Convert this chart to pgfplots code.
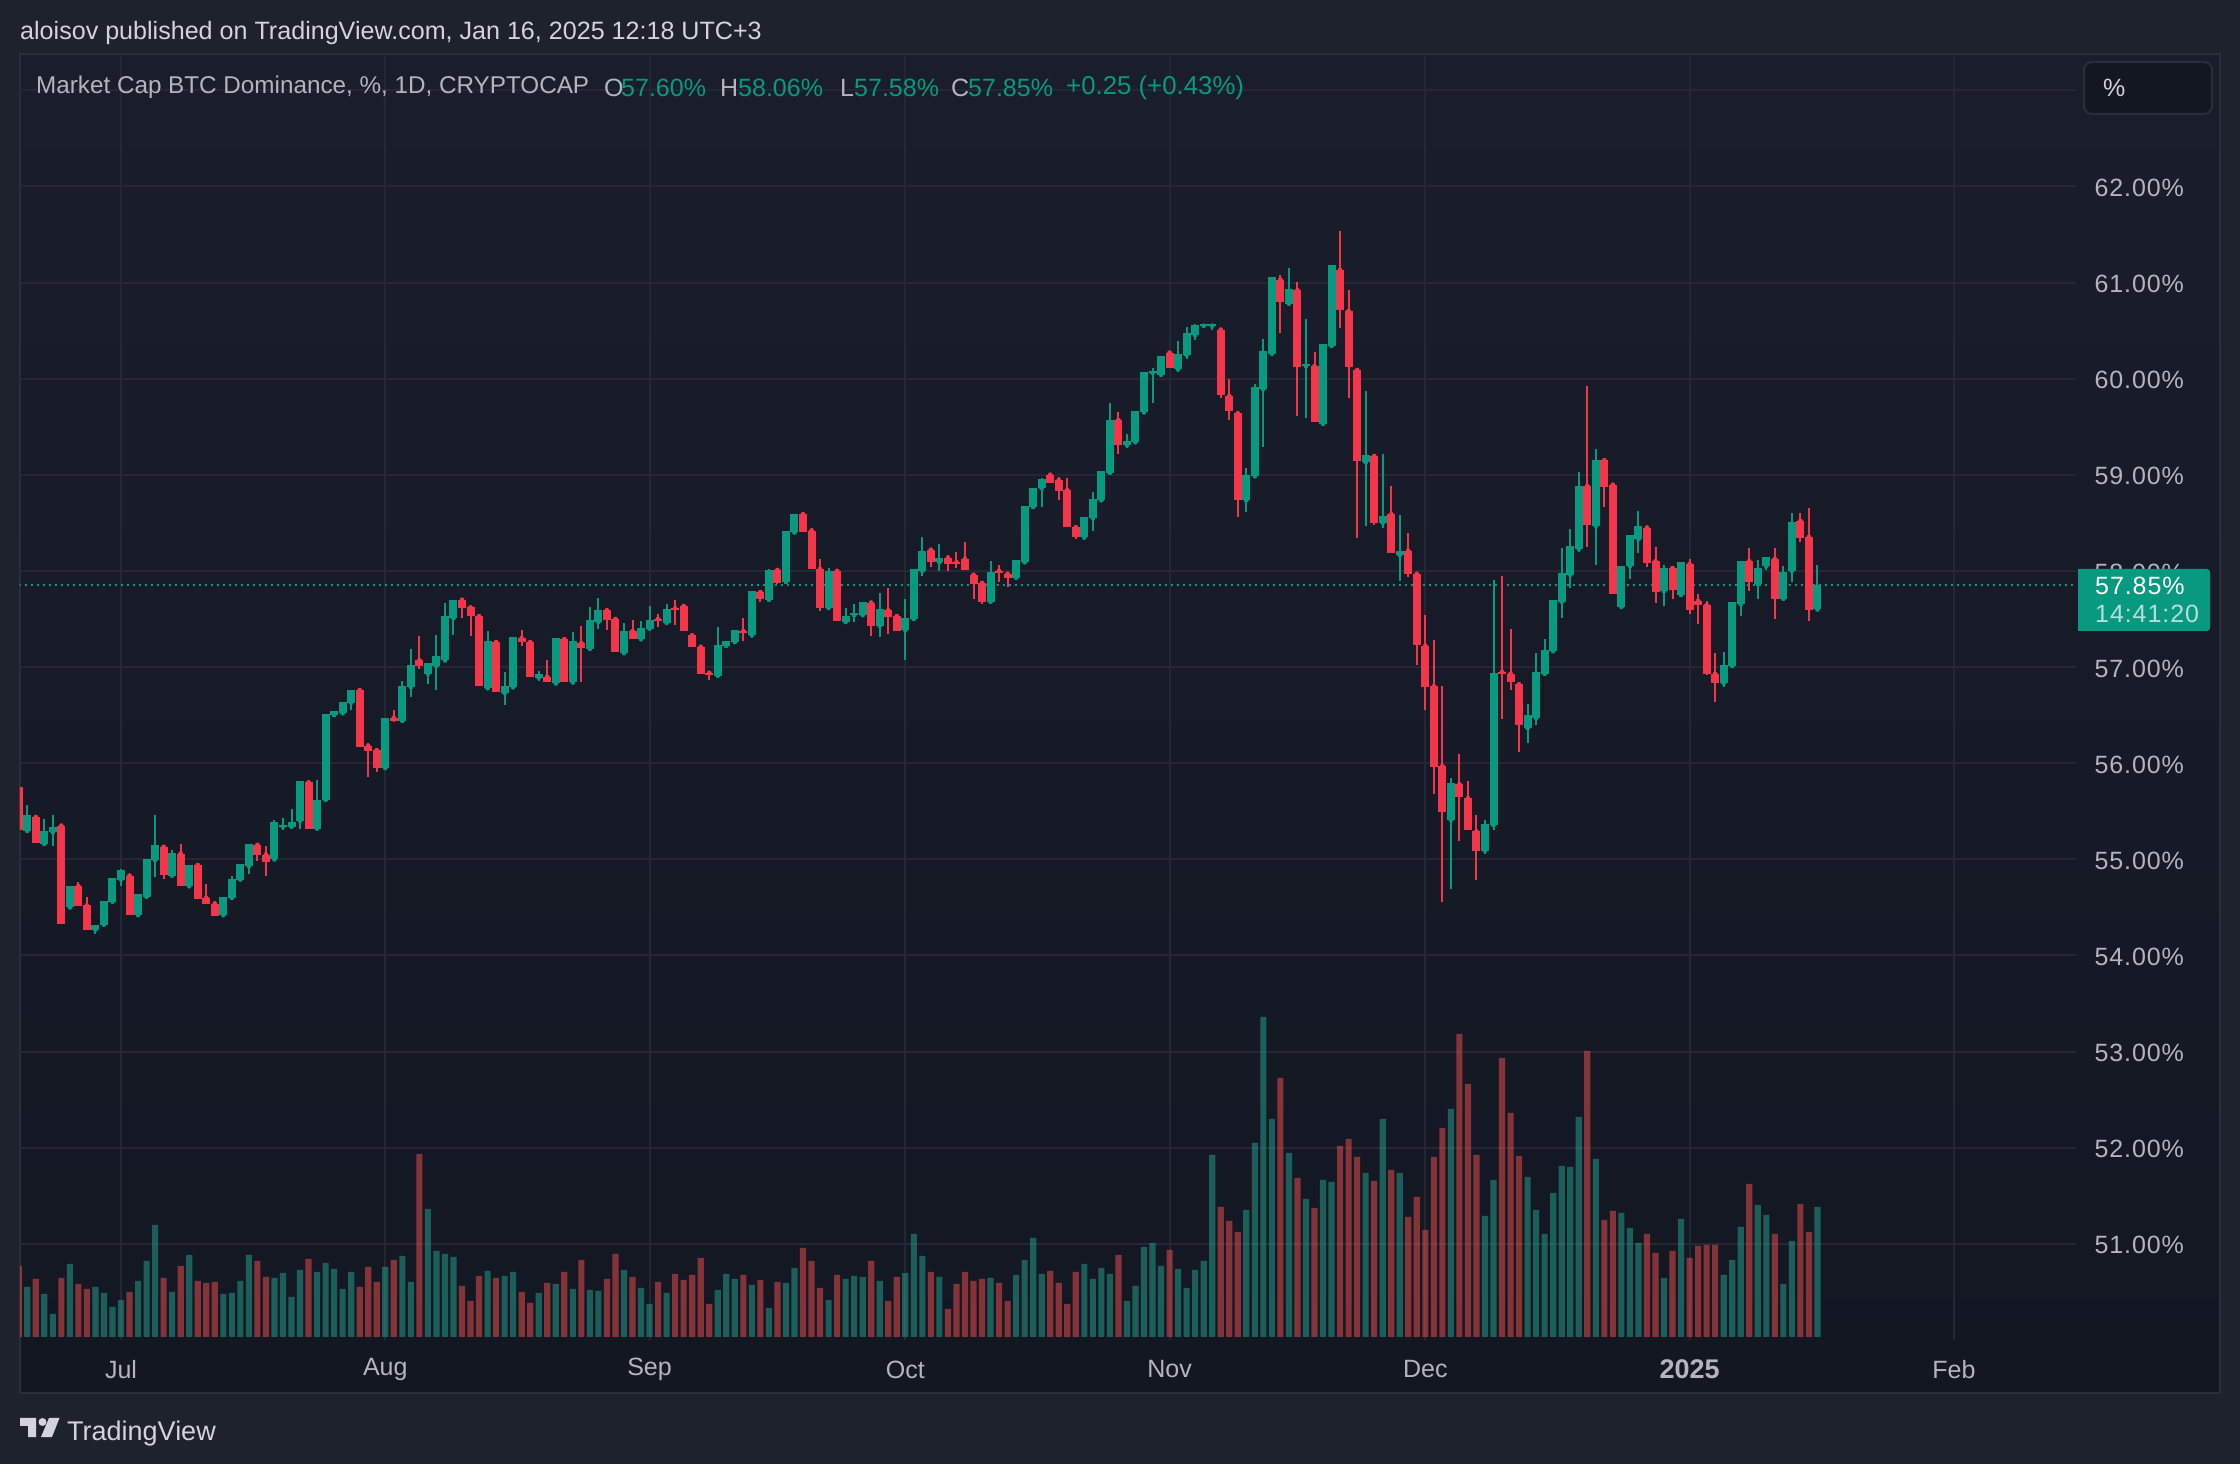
\documentclass[border=0pt]{standalone}
\usepackage{fontspec}
\setmainfont{Liberation Sans}
\newfontfamily\labf[LetterSpace=3.7]{Liberation Sans}
\usepackage{pgfplots}
\usepackage{pgfplotstable}
\pgfplotsset{compat=1.18}
\definecolor{bgouter}{HTML}{1E222D}
\definecolor{panetop}{HTML}{1A1E2B}
\definecolor{panebot}{HTML}{131722}
\definecolor{gridc}{HTML}{252834}
\definecolor{borderc}{HTML}{2A2E39}
\definecolor{labelc}{HTML}{B2B5BE}
\definecolor{titlec}{HTML}{D1D4DC}
\definecolor{tvgreen}{HTML}{089981}
\definecolor{tvred}{HTML}{F5364A}
\definecolor{volgreen}{HTML}{25A592}
\definecolor{volred}{HTML}{F54F4E}
\newcommand\lab{\labf\fontsize{25}{30}\selectfont}
\newcommand\pl{\fontsize{25}{30}\selectfont}
\pgfplotstableread{
d o h l c v
-11 55.295 55.57 55.27 55.46 150
-9 55.16 55.42 55.15 55.29 129
-8 55.28 55.46 55.14 55.34 69
-6 54.50 54.72 54.50 54.72 219
-3 54.27 54.32 54.22 54.32 150
-2 54.32 54.57 54.32 54.57 132
-1 54.56 54.81 54.56 54.81 90
0 54.79 54.90 54.72 54.89 111
2 54.42 54.64 54.40 54.64 168
3 54.61 55.00 54.60 55.00 228
4 54.99 55.46 54.82 55.15 336
6 54.83 55.10 54.83 55.07 135
8 54.72 54.94 54.72 54.94 246
12 54.42 54.61 54.42 54.61 129
13 54.60 54.83 54.60 54.80 132
14 54.79 54.95 54.79 54.95 168
15 54.93 55.16 54.85 55.16 246
18 55.00 55.41 55.00 55.39 177
19 55.34 55.43 55.30 55.36 192
20 55.34 55.52 55.33 55.39 120
21 55.40 55.81 55.32 55.81 201
23 55.32 55.82 55.32 55.62 195
24 55.62 56.51 55.62 56.51 222
25 56.50 56.54 56.50 56.54 204
26 56.52 56.64 56.52 56.64 144
27 56.63 56.76 56.55 56.76 195
31 55.95 56.47 55.95 56.47 210
33 56.44 56.86 56.44 56.80 243
34 56.79 57.19 56.69 57.02 165
36 56.93 57.04 56.82 57.04 384
37 57.01 57.33 56.76 57.12 258
38 57.07 57.67 57.07 57.53 249
39 57.51 57.70 57.33 57.70 240
43 56.78 57.38 56.78 57.27 198
45 56.73 56.95 56.61 56.80 183
46 56.79 57.31 56.79 57.31 195
49 56.89 56.96 56.85 56.93 132
51 56.83 57.30 56.83 57.30 159
53 56.84 57.36 56.84 57.27 144
55 57.19 57.625 57.19 57.49 141
56 57.47 57.72 57.40 57.59 138
59 57.145 57.46 57.145 57.375 201
61 57.29 57.48 57.29 57.41 147
62 57.40 57.635 57.385 57.49 99
64 57.46 57.66 57.46 57.60 132
70 56.91 57.42 56.91 57.23 141
71 57.22 57.27 57.22 57.27 189
72 57.26 57.385 57.25 57.385 174
74 57.33 57.79 57.33 57.79 156
76 57.70 58.02 57.68 58.01 87
78 57.885 58.42 57.885 58.42 162
79 58.40 58.59 58.40 58.59 207
83 57.615 58.03 57.615 58.00 111
85 57.47 57.615 57.47 57.53 174
86 57.54 57.66 57.47 57.56 183
87 57.54 57.68 57.54 57.68 180
89 57.43 57.77 57.31 57.60 168
92 57.385 57.71 57.07 57.51 192
93 57.50 58.02 57.50 58.02 309
94 58.00 58.35 57.95 58.21 243
96 58.09 58.28 58.00 58.135 180
102 57.68 58.10 57.68 57.99 177
105 57.93 58.11 57.93 58.11 186
106 58.09 58.68 58.09 58.68 231
107 58.665 58.865 58.665 58.865 297
108 58.86 58.97 58.67 58.96 189
113 58.35 58.56 58.32 58.56 219
114 58.55 58.82 58.42 58.745 174
115 58.735 59.04 58.735 59.04 207
116 59.02 59.75 59.02 59.57 189
118 59.31 59.42 59.28 59.35 108
119 59.34 59.66 59.34 59.66 153
120 59.65 60.07 59.65 60.07 270
121 60.06 60.11 59.75 60.08 282
122 60.04 60.24 60.02 60.24 213
124 60.10 60.39 60.07 60.26 204
125 60.245 60.54 60.205 60.475 147
126 60.455 60.57 60.40 60.56 201
127 60.55 60.57 60.54 60.57 228
128 60.55 60.57 60.51 60.57 546
132 58.735 59.07 58.61 59.00 381
133 58.985 59.945 58.985 59.91 582
134 59.89 60.41 59.29 60.29 960
135 60.26 61.06 60.26 61.06 654
137 60.78 61.15 60.78 60.93 552
139 60.13 60.62 59.59 60.15 414
141 59.53 60.36 59.53 60.36 471
142 60.34 61.18 60.34 61.18 465
146 59.13 59.87 58.465 59.205 492
148 58.50 59.215 58.445 58.57 654
150 58.165 58.58 57.895 58.21 492
156 55.41 55.85 54.69 55.79 684
160 55.09 55.41 55.06 55.365 363
161 55.355 57.91 55.30 56.94 471
165 56.365 56.615 56.21 56.50 480
166 56.47 57.145 56.395 56.95 381
167 56.93 57.29 56.93 57.18 309
168 57.165 57.70 57.165 57.70 432
169 57.68 58.24 57.51 57.98 513
170 57.96 58.44 57.82 58.26 510
171 58.23 59.03 58.20 58.885 660
173 58.47 59.27 58.06 59.15 534
176 57.625 58.05 57.625 58.05 372
177 58.05 58.375 57.915 58.375 327
178 58.33 58.625 58.19 58.47 282
181 57.79 58.06 57.635 58.03 177
183 57.75 58.09 57.75 58.09 354
188 56.83 57.155 56.79 57.02 186
189 57.01 57.68 57.01 57.68 231
190 57.655 58.10 57.53 58.10 330
192 57.865 58.115 57.71 58.03 396
193 58.05 58.145 58.01 58.145 366
195 57.71 58.05 57.71 57.99 159
196 58.00 58.60 57.885 58.51 288
199 57.60 58.06 57.58 57.85 390
}\greenT
\pgfplotstableread{
d o h l c v
-12 55.75 55.75 55.31 55.31 213
-10 55.44 55.44 55.17 55.17 174
-7 55.35 55.35 54.33 54.33 177
-5 54.72 54.76 54.51 54.51 159
-4 54.52 54.61 54.26 54.26 144
1 54.83 54.83 54.42 54.42 135
5 55.13 55.13 54.80 54.84 177
7 55.06 55.16 54.72 54.72 213
9 54.94 54.94 54.59 54.59 168
10 54.60 54.74 54.54 54.54 162
11 54.54 54.57 54.41 54.41 165
16 55.15 55.17 54.98 55.05 228
17 55.05 55.14 54.83 54.97 180
22 55.80 55.80 55.32 55.32 234
28 56.76 56.76 56.17 56.17 150
29 56.18 56.21 55.86 56.125 210
30 56.135 56.135 55.91 55.95 165
32 56.47 56.55 56.43 56.44 231
35 57.07 57.32 56.98 57.01 549
40 57.70 57.70 57.51 57.61 153
41 57.62 57.62 57.32 57.53 108
42 57.53 57.53 56.80 56.80 183
44 57.26 57.26 56.74 56.74 177
47 57.30 57.39 57.22 57.26 135
48 57.26 57.26 56.90 56.90 102
50 56.90 57.07 56.84 56.84 162
52 57.29 57.29 56.84 56.84 195
54 57.25 57.43 56.84 57.20 231
57 57.59 57.59 57.385 57.49 174
58 57.50 57.50 57.16 57.16 249
60 57.375 57.49 57.29 57.29 180
63 57.50 57.55 57.42 57.48 165
65 57.61 57.70 57.44 57.59 189
66 57.635 57.635 57.375 57.375 171
67 57.33 57.33 57.21 57.21 186
68 57.21 57.21 56.93 56.93 237
69 56.94 56.94 56.865 56.92 99
73 57.375 57.51 57.27 57.355 186
75 57.78 57.79 57.68 57.71 171
77 58.01 58.01 57.86 57.875 165
80 58.59 58.615 58.41 58.41 267
81 58.42 58.45 58.02 58.02 228
82 58.02 58.125 57.58 57.615 147
84 58.00 58.00 57.48 57.48 186
88 57.67 57.69 57.32 57.43 228
90 57.59 57.82 57.34 57.52 108
91 57.53 57.53 57.375 57.375 180
95 58.22 58.24 58.04 58.09 195
97 58.135 58.17 58.00 58.07 84
98 58.09 58.20 58.03 58.07 159
99 58.125 58.30 58.01 58.01 195
100 57.96 57.96 57.71 57.865 168
101 57.875 57.875 57.66 57.68 174
103 58.00 58.06 57.885 57.98 162
104 57.97 57.98 57.83 57.93 108
109 59.00 59.00 58.91 58.91 198
110 58.945 58.976 58.735 58.83 162
111 58.84 58.965 58.455 58.455 99
112 58.455 58.455 58.33 58.35 195
117 59.57 59.65 59.215 59.31 246
123 60.27 60.27 60.11 60.11 261
129 60.51 60.51 59.80 59.83 390
130 59.82 59.995 59.57 59.66 348
131 59.64 59.64 58.56 58.735 315
136 61.03 61.08 60.475 60.80 777
138 60.92 61.01 59.61 60.12 477
140 60.13 60.28 59.55 59.55 387
143 61.13 61.54 60.53 60.715 573
144 60.705 60.92 59.80 60.12 594
145 60.09 60.09 58.34 59.14 540
147 59.195 59.195 58.475 58.50 468
149 58.59 58.885 58.19 58.19 501
151 58.21 58.395 57.94 57.97 360
152 57.97 57.99 57.02 57.23 420
153 57.22 57.54 56.55 56.79 321
154 56.80 57.28 55.68 55.96 540
155 55.97 56.80 54.56 55.49 627
157 55.78 56.10 55.19 55.645 909
158 55.635 55.81 55.31 55.31 759
159 55.29 55.46 54.78 55.09 546
162 56.95 57.95 56.46 56.93 837
163 56.93 57.40 56.76 56.84 672
164 56.82 56.82 56.115 56.395 543
172 58.885 59.92 58.25 58.48 858
174 59.15 59.17 58.665 58.875 351
175 58.896 58.896 57.76 57.76 378
179 58.45 58.45 58.04 58.08 309
180 58.10 58.25 57.665 57.78 252
182 58.03 58.03 57.71 57.80 258
184 58.07 58.125 57.55 57.59 237
185 57.69 57.76 57.45 57.645 273
186 57.645 57.69 56.92 56.93 276
187 56.93 57.145 56.635 56.83 276
191 58.10 58.24 57.79 57.885 459
194 58.125 58.24 57.50 57.71 309
197 58.52 58.60 58.30 58.345 399
198 58.355 58.655 57.48 57.595 315
}\redT
\pgfplotsset{
  wicks/.style={forget plot, only marks, mark=none, color=#1,
    error bars/.cd, y dir=both, y explicit, error mark=none,
    error bar style={color=#1, line width=2pt}},
  bodygreen/.style={forget plot, only marks, mark=none, color=tvgreen,
    error bars/.cd, y dir=plus, y explicit, error mark=none,
    error bar style={color=tvgreen, line width=8pt}},
  bodyred/.style={forget plot, only marks, mark=none, color=tvred,
    error bars/.cd, y dir=minus, y explicit, error mark=none,
    error bar style={color=tvred, line width=8pt}},
}
\begin{document}
\begin{tikzpicture}
\path[use as bounding box] (0,0) rectangle (2240pt,1464pt);
\fill[bgouter] (0,0) rectangle (2240pt,1464pt);
\shade[top color=panetop, bottom color=panebot] (20pt,71pt) rectangle (2220pt,1410pt);
\draw[borderc, line width=2pt] (20pt,71pt) rectangle (2220pt,1410pt);
\begin{axis}[
  at={(20pt,124pt)}, anchor=south west, scale only axis,
  width=2056pt, height=1286pt,
  xmin=-11.85, xmax=229.33, ymin=50, ymax=63.377,
  axis line style={draw=none},
  tick style={draw=none},
  grid=major,
  grid style={color=gridc, line width=2pt},
  xtick={0,31,62,92,123,153,184,215},
  xticklabels={Jul,Aug,Sep,Oct,Nov,Dec,{\fontsize{27}{30}\selectfont\textbf{2025}},Feb},
  ytick={51,52,53,54,55,56,57,58,59,60,61,62,63},
  yticklabels={51.00\%,52.00\%,53.00\%,54.00\%,55.00\%,56.00\%,57.00\%,58.00\%,59.00\%,60.00\%,61.00\%,62.00\%,{}},
  yticklabel pos=right,
  y tick label style={anchor=west, xshift=15pt, yshift=-1.5pt, font=\lab, color=labelc},
  x tick label style={anchor=center, yshift=-29.5pt, font=\pl, color=labelc},
]
\addplot[forget plot, tvgreen, line width=2pt, dash pattern=on 2pt off 4pt] coordinates {(-12,57.85) (229.33,57.85)};
\addplot[wicks=tvgreen] table[x=d, y=o, y error plus expr=\thisrow{h}-\thisrow{o}, y error minus expr=\thisrow{o}-\thisrow{l}] {\greenT};
\addplot[wicks=tvred] table[x=d, y=o, y error plus expr=\thisrow{h}-\thisrow{o}, y error minus expr=\thisrow{o}-\thisrow{l}] {\redT};
\addplot[bodygreen] table[x=d, y=o, y error plus expr=\thisrow{c}-\thisrow{o}] {\greenT};
\addplot[bodyred] table[x=d, y=o, y error minus expr=\thisrow{o}-\thisrow{c}] {\redT};
\end{axis}
\begin{axis}[
  at={(20pt,124pt)}, anchor=south west, scale only axis,
  width=2056pt, height=1286pt,
  xmin=-11.85, xmax=229.33, ymin=-9, ymax=3849,
  hide axis,
]
\addplot[ybar, bar width=0.72, bar shift=0pt, draw=none, fill=volgreen, fill opacity=0.5] table[x=d, y=v] {\greenT};
\addplot[ybar, bar width=0.72, bar shift=0pt, draw=none, fill=volred, fill opacity=0.5] table[x=d, y=v] {\redT};
\end{axis}
% price badge
\fill[tvgreen, rounded corners=3pt] (2078pt,833pt) rectangle (2210pt,895pt);
\fill[tvgreen] (2078pt,833pt) rectangle (2100pt,895pt);
\node[anchor=west, inner sep=0pt, white] at (2095pt,878pt) {\lab 57.85\%};
\node[anchor=west, inner sep=0pt, white, opacity=0.7] at (2095pt,850pt) {\lab 14:41:20};
% percent button
\draw[borderc, line width=2pt, fill=panebot, rounded corners=8pt] (2084pt,1350pt) rectangle (2212pt,1402pt);
\node[anchor=west, inner sep=0pt, titlec] at (2103pt,1376pt) {\pl \%};
% titles
\node[anchor=west, inner sep=0pt, titlec] at (20pt,1431pt) {\fontsize{25.1}{30}\selectfont aloisov published on TradingView.com, Jan 16, 2025 12:18 UTC+3};
\node[anchor=west, inner sep=0pt, labelc] at (36pt,1376.5pt) {\fontsize{24.25}{30}\selectfont Market Cap BTC Dominance, \%, 1D, CRYPTOCAP};
\node[anchor=west, inner sep=0pt, labelc] at (604pt,1376.5pt) {\pl O};
\node[anchor=west, inner sep=0pt, tvgreen] at (621pt,1376.5pt) {\pl 57.60\%};
\node[anchor=west, inner sep=0pt, labelc] at (720pt,1376.5pt) {\pl H};
\node[anchor=west, inner sep=0pt, tvgreen] at (738pt,1376.5pt) {\pl 58.06\%};
\node[anchor=west, inner sep=0pt, labelc] at (840pt,1376.5pt) {\pl L};
\node[anchor=west, inner sep=0pt, tvgreen] at (854pt,1376.5pt) {\pl 57.58\%};
\node[anchor=west, inner sep=0pt, labelc] at (951pt,1376.5pt) {\pl C};
\node[anchor=west, inner sep=0pt, tvgreen] at (968pt,1376.5pt) {\pl 57.85\%};
\node[anchor=west, inner sep=0pt, tvgreen] at (1066pt,1376.5pt) {\fontsize{25.8}{30}\selectfont +0.25 (+0.43\%)};
% logo
\fill[titlec] (20pt,46pt) -- (36pt,46pt) -- (36pt,27pt) -- (28pt,27pt) -- (28pt,38pt) -- (20pt,38pt) -- cycle;
\fill[titlec] (42.5pt,42pt) circle (4pt);
\fill[titlec] (49pt,46pt) -- (59.5pt,46pt) -- (52pt,27pt) -- (41pt,27pt) -- cycle;
\node[anchor=west, inner sep=0pt, titlec] at (67pt,30.5pt) {\fontsize{27}{32}\selectfont TradingView};
\end{tikzpicture}
\end{document}
